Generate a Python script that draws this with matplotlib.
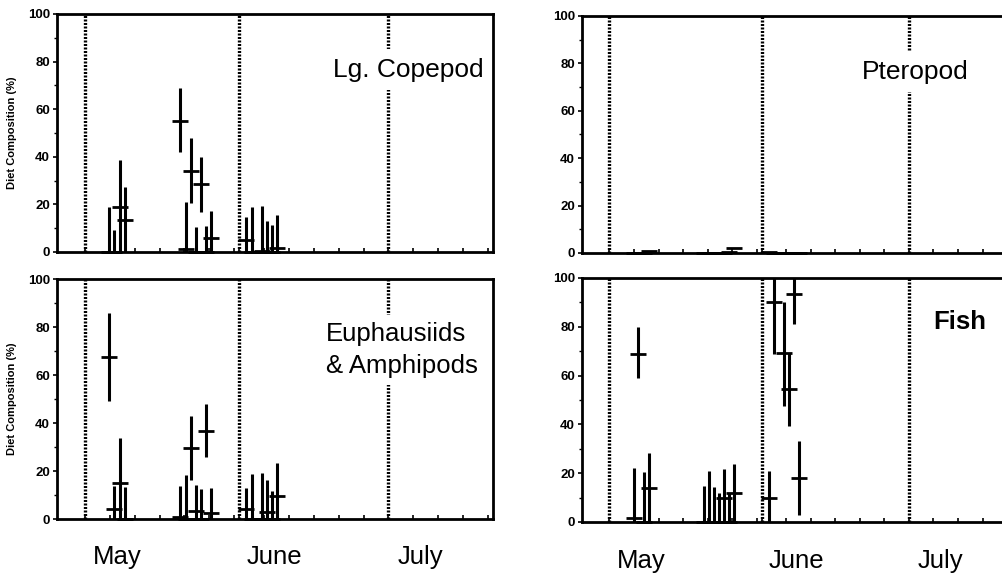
import numpy as np
import matplotlib
matplotlib.use("Agg")
import matplotlib.pyplot as plt
import matplotlib.transforms as mtransforms
from matplotlib.ticker import MultipleLocator, FixedLocator, NullFormatter

plt.rcParams['font.family'] = ['Liberation Sans', 'DejaVu Sans']

# sampling dates, day of year (May 1 = 121)
DATES = [125.9, 126.9, 128.0, 129.1,
         140.2, 141.3, 142.35, 143.4, 144.25, 145.3, 146.35,
         153.4, 154.5, 156.6, 157.6, 158.6, 159.7]

MONTH_STARTS = [121, 152, 182]
MONTH_LENGTHS = [31, 30, 31]
MONTH_NAMES = ['May', 'June', 'July']
MONTH_LABEL_X = [127.5, 159.0, 188.5]

# diet composition (%): mean, lower and upper bound for each date
COPEPOD_MEAN = [0, 0, 19, 13.4, 55, 1.3, 34.2, 0, 28.6, 0, 5.7, 5, 0, 0.4, 0, 0, 1.8]
COPEPOD_LO = [0, 0, 0, 0, 42, 0, 20.5, 0, 16.9, 0, 0, 0, 0, 0, 0, 0, 0]
COPEPOD_HI = [18.8, 9.2, 38.7, 27.2, 69, 21.1, 48, 10.6, 40, 11, 17.4, 14.8, 18.8, 19.5, 13.2, 11.3, 15.5]

PTEROPOD_MEAN = [0, 0, 0, 0.8, 0, 0, 0, 0, 0, 0.4, 2.2, 0.5, 0, 0, 0, 0, 0]
PTEROPOD_LO = [0, 0, 0, 0.8, 0, 0, 0, 0, 0, 0.4, 2.2, 0.5, 0, 0, 0, 0, 0]
PTEROPOD_HI = [0, 0, 0, 0.8, 0, 0, 0, 0, 0, 0.4, 2.2, 0.5, 0, 0, 0, 0, 0]

EUPH_MEAN = [67.5, 4.2, 14.9, 0, 0.7, 0, 29.4, 3.5, 0, 36.8, 2.4, 4, 0, 0, 2.8, 0, 9.7]
EUPH_LO = [49, 0, 0, 0, 0, 0, 16.2, 0, 0, 26, 0, 0, 0, 0, 0, 0, 0]
EUPH_HI = [86, 13.8, 33.6, 13.3, 13.8, 18.3, 42.9, 14.2, 12.4, 47.9, 13, 13, 18.8, 19.3, 16.2, 11.7, 23.2]

FISH_MEAN = [1.5, 69, 0, 14, 0, 0, 0, 0, 9.7, 0, 11.8, 9.7, 90, 69.4, 54.7, 93.4, 18]
FISH_LO = [0, 59, 0, 0, 0, 0, 0, 0, 0, 0, 0, 0, 68.7, 47.7, 39.2, 81, 2.9]
FISH_HI = [22.1, 80, 20.3, 28.3, 14.8, 20.7, 14.5, 12, 21.7, 12, 23.9, 20.7, 100, 90, 69.4, 100, 33]

XLIM = (115.4, 203.0)
W, H = 1003, 578


def panel(fig, rect_px, mean, lo, hi, ylabel=False, months=False):
    x0, y0, w, h = rect_px
    ax = fig.add_axes([x0 / W, 1 - (y0 + h) / H, w / W, h / H])
    for d in MONTH_STARTS:
        ax.axvline(d, color='black', lw=2.4, linestyle=(0, (0.6, 0.45)), zorder=1)
    mean = np.array(mean)
    yerr = [mean - np.array(lo), np.array(hi) - mean]
    ax.errorbar(DATES, mean, yerr=yerr, fmt='_', color='black', ms=12, mew=2.0,
                elinewidth=2.2, capsize=0, zorder=4, clip_on=False)
    ax.set_xlim(*XLIM)
    ax.set_ylim(0, 100)
    ax.yaxis.set_major_locator(MultipleLocator(20))
    ax.yaxis.set_minor_locator(MultipleLocator(10))
    ticks = [m + k for m, n in zip(MONTH_STARTS, MONTH_LENGTHS) for k in range(0, n, 5)]
    ax.xaxis.set_major_locator(FixedLocator(ticks))
    ax.xaxis.set_major_formatter(NullFormatter())
    ax.tick_params(axis='x', direction='in', length=3, width=1.2)
    ax.tick_params(axis='y', which='major', direction='out', length=3, width=1.2,
                   labelsize=9.5, pad=2)
    ax.tick_params(axis='y', which='minor', direction='out', length=2, width=1)
    for lab in ax.get_yticklabels():
        lab.set_fontweight('bold')
    for sp in ax.spines.values():
        sp.set_linewidth(2.0)
    if ylabel:
        ax.set_ylabel('Diet Composition (%)', fontsize=8, fontweight='bold')
        ax.yaxis.set_label_coords(-0.092, 0.5)
    if months:
        trans = mtransforms.blended_transform_factory(ax.transData, ax.transAxes)
        for x, name in zip(MONTH_LABEL_X, MONTH_NAMES):
            ax.text(x, -0.16, name, transform=trans, ha='center', va='center',
                    fontsize=18.5, clip_on=False)
    return ax


fig = plt.figure(figsize=(W / 100, H / 100), dpi=100)

box = dict(facecolor='white', edgecolor='none', pad=6)

ax1 = panel(fig, (57, 14, 436, 238), COPEPOD_MEAN, COPEPOD_LO, COPEPOD_HI, ylabel=True)
ax1.text(201.1, 76.5, 'Lg. Copepod', ha='right', va='center', fontsize=19, bbox=box, zorder=3)

ax2 = panel(fig, (582, 16, 430, 237), PTEROPOD_MEAN, PTEROPOD_LO, PTEROPOD_HI)
ax2.text(194.1, 76.4, 'Pteropod', ha='right', va='center', fontsize=19, bbox=box, zorder=3)

ax3 = panel(fig, (57, 279, 436, 240), EUPH_MEAN, EUPH_LO, EUPH_HI, ylabel=True, months=True)
ax3.text(169.5, 70.4, 'Euphausiids\n& Amphipods', ha='left', va='center', fontsize=18.5,
         linespacing=1.45, bbox=dict(facecolor='white', edgecolor='none', pad=5), zorder=3)

ax4 = panel(fig, (582, 278, 430, 244), FISH_MEAN, FISH_LO, FISH_HI, months=True)
ax4.text(186.9, 82, 'Fish', ha='left', va='center', fontsize=18.5, fontweight='bold', zorder=3)

fig.savefig('out.png', dpi=100)
